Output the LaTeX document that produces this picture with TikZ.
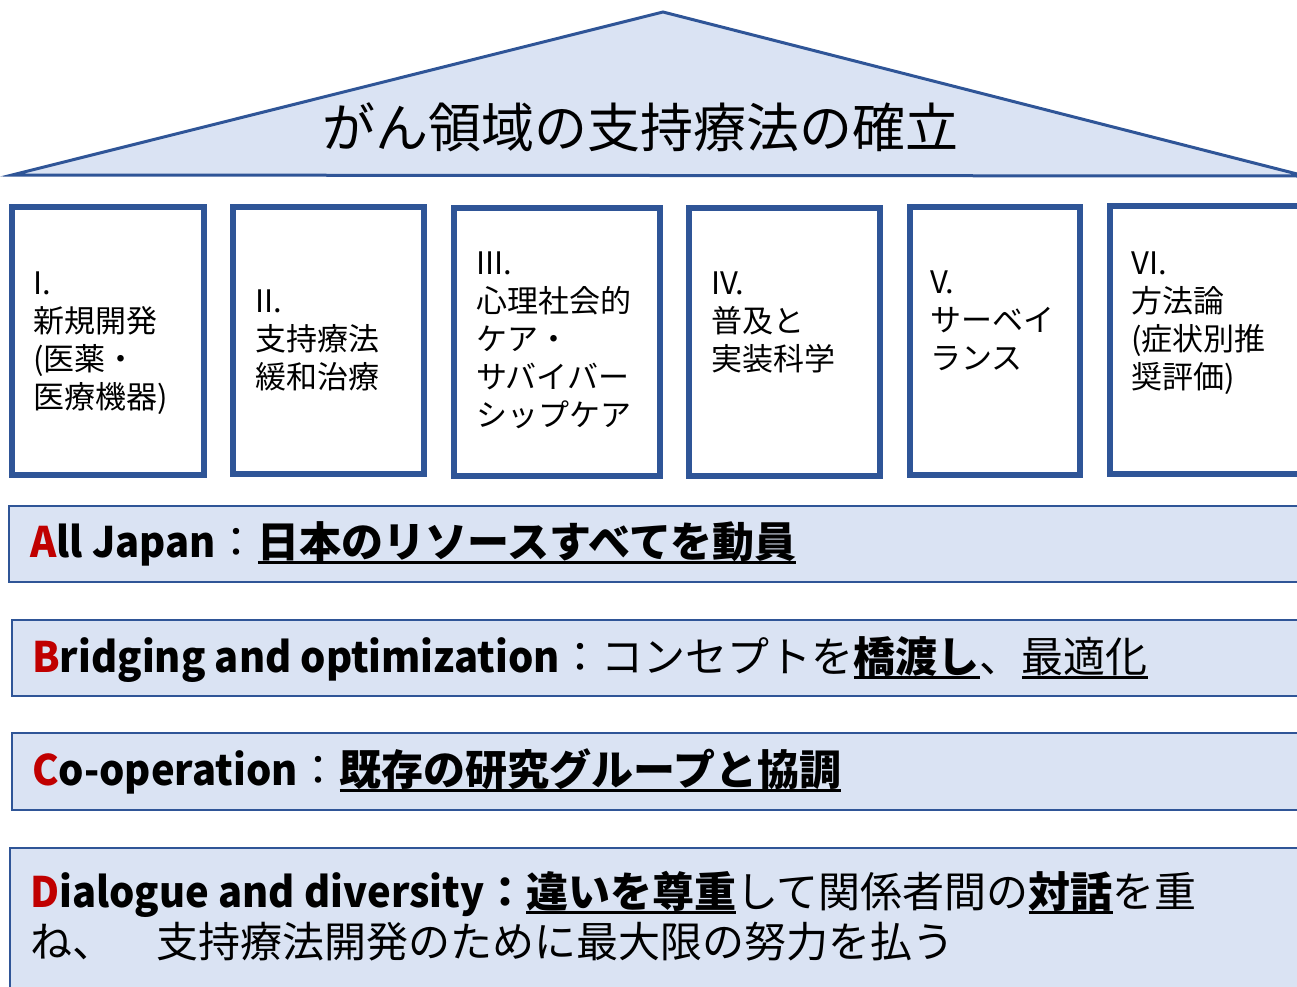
\documentclass[tikz,border=0pt]{standalone}
\usepackage{fontspec}
\setmainfont{Noto Sans CJK JP}
\definecolor{edgeblue}{HTML}{2F5597}
\definecolor{paleblue}{HTML}{DAE3F3}
\definecolor{initred}{HTML}{C00000}
\newcommand\myul[1]{\setbox0\hbox{#1}\rlap{\rule[-0.17em]{\wd0}{0.065em}}\box0}
\newcommand\narrowlat[1]{{\addfontfeature{FakeStretch=0.95}#1}}
\tikzset{
  roofshape/.style={draw=edgeblue, line width=3pt, fill=paleblue, line join=miter},
  pillarbox/.style={draw=edgeblue, line width=6pt, fill=white},
  barbox/.style={draw=edgeblue, line width=2.5pt, fill=paleblue},
  pillartext/.style={anchor=base west, align=left, inner sep=0pt, font=\fontsize{31}{38}\selectfont},
  bartext/.style={anchor=base west, inner sep=0pt, font=\fontsize{42}{50}\selectfont},
  titletext/.style={anchor=base, inner sep=0pt, font=\fontsize{53}{60}\selectfont}
}
\begin{document}
\begin{tikzpicture}[x=1pt, y=-1pt]
\useasboundingbox (0,0) rectangle (1297,986);
% roof
\draw[roofshape] (12,175) -- (663,12) -- (1305,176) -- cycle;
\node[titletext] (title) at (640,147) {がん領域の支持療法の確立};
% pillars
\draw[pillarbox] (12,207) rectangle (204,475);
\draw[pillarbox] (233,207) rectangle (424,474);
\draw[pillarbox] (454,208) rectangle (660,476);
\draw[pillarbox] (689,208) rectangle (880,476);
\draw[pillarbox] (910,207) rectangle (1080,475);
\draw[pillarbox] (1110,206) rectangle (1320,474);
% base anchor of a multi-line node = baseline of its last line
\node[pillartext] (p1) at (33,408) {I.\\新規開発\\(医薬・\\医療機器)};
\node[pillartext] (p2) at (255,388) {II.\\支持療法\\緩和治療};
\node[pillartext] (p3) at (476,426) {III.\\心理社会的\\ケア・\\サバイバー\\シップケア};
\node[pillartext] (p4) at (711,370) {IV.\\普及と\\実装科学};
\node[pillartext] (p5) at (930,369) {V.\\サーベイ\\ランス};
\node[pillartext] (p6) at (1131,388) {VI.\\方法論\\(症状別推\\奨評価)};
% bars
\draw[barbox] (9,506) rectangle (1310,582);
\draw[barbox] (12,620) rectangle (1310,696);
\draw[barbox] (12,733) rectangle (1310,810);
\draw[barbox] (10,848) rectangle (1310,1000);
\node[bartext] (a) at (30,557) {\narrowlat{{\bfseries\color{initred}A}{\bfseries ll Japan}}：\myul{\bfseries 日本のリソースすべてを動員}};
\node[bartext] (b) at (32,672) {\narrowlat{\bfseries{\color{initred}B}ridging and optimization}：コンセプトを\myul{\bfseries 橋渡し}、\myul{最適化}};
\node[bartext] (c) at (32,785) {\narrowlat{\bfseries{\color{initred}C}o-operation}：\myul{\bfseries 既存の研究グループと協調}};
\node[bartext] (d1) at (30,907) {{\bfseries\narrowlat{{\color{initred}D}ialogue and diversity}：\myul{違いを尊重}}して関係者間の\myul{\bfseries 対話}を重};
\node[bartext] (d2) at (30,957) {ね、　支持療法開発のために最大限の努力を払う};
\end{tikzpicture}
\end{document}
